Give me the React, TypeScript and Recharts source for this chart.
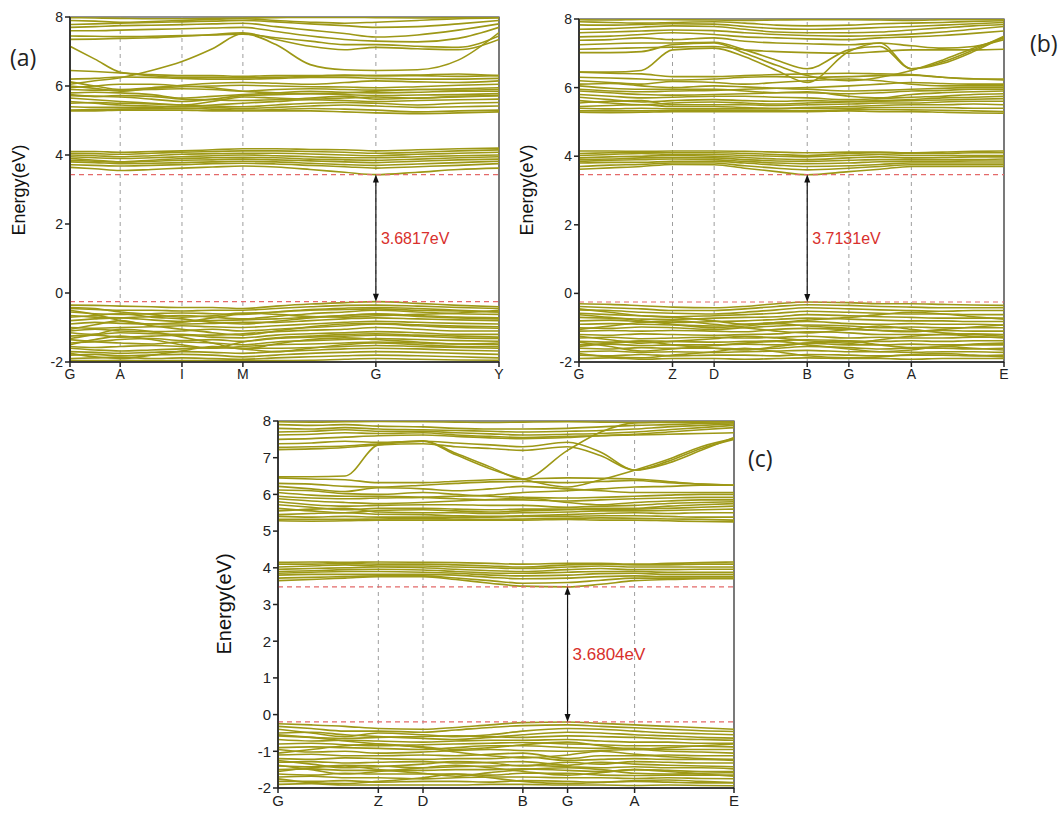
import { LineChart, Line, XAxis, YAxis, ReferenceLine, ReferenceArea } from "recharts";

// ---- path (a): G-A-I-M-G-Y ----
const PATH_A_TICKS = [0, 0.117, 0.261, 0.403, 0.713, 1];
const PATH_A_LABELS = ["G", "A", "I", "M", "G", "Y"];
const K_A = [0, 0.058, 0.117, 0.19, 0.261, 0.332, 0.403, 0.48, 0.56, 0.64, 0.713, 0.81, 0.905, 1];

const TOP_A = [
  [7.98, 7.97, 7.96, 7.95, 7.95, 7.96, 7.97, 7.98, 7.99, 7.99, 7.98, 7.97, 7.98, 7.99],
  [7.9, 7.88, 7.85, 7.87, 7.9, 7.93, 7.95, 7.9, 7.85, 7.82, 7.85, 7.9, 7.95, 7.97],
  [7.78, 7.8, 7.82, 7.84, 7.86, 7.88, 7.9, 7.86, 7.8, 7.75, 7.7, 7.72, 7.8, 7.9],
  [7.7, 7.72, 7.75, 7.76, 7.78, 7.8, 7.82, 7.72, 7.62, 7.52, 7.42, 7.48, 7.62, 7.8],
  [7.6, 7.6, 7.62, 7.64, 7.66, 7.68, 7.7, 7.58, 7.45, 7.35, 7.3, 7.28, 7.38, 7.7],
  [7.45, 7.44, 7.43, 7.44, 7.46, 7.48, 7.5, 7.4, 7.3, 7.2, 7.2, 7.15, 7.12, 7.45],
  [7.35, 7.36, 7.38, 7.4, 7.44, 7.49, 7.54, 7.35, 7.15, 7.05, 7.12, 7.08, 7.05, 7.35],
  [7.15, 6.78, 6.4, 6.3, 6.25, 6.25, 6.24, 6.25, 6.28, 6.3, 6.3, 6.3, 6.28, 6.3],
  [6.05, 6.15, 6.24, 6.45, 6.71, 7.08, 7.52, 7.2, 6.62, 6.47, 6.45, 6.47, 6.75, 7.55],
];
const MID_A = [
  [6.45, 6.42, 6.38, 6.33, 6.3, 6.3, 6.28, 6.3, 6.3, 6.32, 6.3, 6.32, 6.35, 6.3],
  [6.2, 6.22, 6.26, 6.25, 6.22, 6.2, 6.2, 6.22, 6.25, 6.25, 6.22, 6.2, 6.2, 6.22],
  [6.12, 6.0, 5.9, 5.95, 6.02, 6.08, 6.1, 6.08, 6.05, 6.1, 6.15, 6.12, 6.1, 6.15],
  [6.0, 5.93, 5.85, 5.93, 5.98, 6.0, 6.02, 6.0, 5.98, 5.97, 5.95, 5.98, 6.02, 6.05],
  [5.95, 6.0, 6.05, 6.05, 6.0, 5.95, 5.85, 5.8, 5.78, 5.8, 5.85, 5.9, 5.88, 5.9],
  [5.9, 5.88, 5.88, 5.9, 5.92, 5.9, 5.85, 5.9, 5.92, 5.9, 5.88, 5.9, 5.92, 5.95],
  [5.8, 5.82, 5.8, 5.75, 5.65, 5.7, 5.75, 5.8, 5.85, 5.82, 5.8, 5.82, 5.85, 5.85],
  [5.75, 5.7, 5.72, 5.7, 5.62, 5.6, 5.58, 5.6, 5.65, 5.7, 5.62, 5.65, 5.68, 5.72],
  [5.72, 5.7, 5.68, 5.62, 5.55, 5.62, 5.72, 5.75, 5.78, 5.75, 5.72, 5.74, 5.75, 5.78],
  [5.65, 5.6, 5.55, 5.5, 5.45, 5.55, 5.68, 5.65, 5.62, 5.65, 5.68, 5.65, 5.7, 5.72],
  [5.55, 5.5, 5.45, 5.42, 5.4, 5.45, 5.5, 5.55, 5.6, 5.58, 5.55, 5.58, 5.6, 5.62],
  [5.5, 5.52, 5.5, 5.48, 5.45, 5.42, 5.4, 5.45, 5.5, 5.52, 5.5, 5.45, 5.5, 5.52],
  [5.4, 5.38, 5.38, 5.38, 5.4, 5.38, 5.35, 5.38, 5.42, 5.45, 5.42, 5.38, 5.4, 5.42],
  [5.3, 5.32, 5.33, 5.34, 5.35, 5.33, 5.3, 5.32, 5.35, 5.33, 5.3, 5.25, 5.28, 5.3],
  [5.28, 5.28, 5.3, 5.3, 5.3, 5.28, 5.28, 5.28, 5.28, 5.25, 5.22, 5.2, 5.22, 5.25],
];
const CB_A = [
  [4.1, 4.1, 4.08, 4.1, 4.12, 4.15, 4.18, 4.18, 4.16, 4.15, 4.12, 4.15, 4.18, 4.2],
  [4.05, 4.04, 4.02, 4.05, 4.08, 4.1, 4.12, 4.12, 4.1, 4.08, 4.05, 4.08, 4.12, 4.15],
  [4.0, 3.98, 3.95, 3.98, 4.02, 4.04, 4.05, 4.05, 4.03, 4.0, 3.98, 4.02, 4.05, 4.08],
  [3.95, 3.92, 3.9, 3.92, 3.95, 3.98, 4.0, 3.98, 3.95, 3.92, 3.92, 3.95, 3.98, 4.0],
  [3.9, 3.85, 3.8, 3.85, 3.9, 3.92, 3.93, 3.92, 3.88, 3.86, 3.85, 3.88, 3.92, 3.95],
  [3.85, 3.82, 3.8, 3.82, 3.85, 3.86, 3.88, 3.86, 3.83, 3.8, 3.78, 3.82, 3.86, 3.88],
  [3.8, 3.78, 3.75, 3.76, 3.78, 3.8, 3.82, 3.8, 3.76, 3.72, 3.7, 3.74, 3.78, 3.82],
  [3.72, 3.7, 3.68, 3.7, 3.72, 3.75, 3.76, 3.74, 3.7, 3.66, 3.62, 3.66, 3.7, 3.75],
  [3.64, 3.6, 3.55, 3.58, 3.62, 3.65, 3.68, 3.65, 3.58, 3.5, 3.43, 3.5, 3.58, 3.62],
];
const VB_A = [
  [-0.35, -0.36, -0.38, -0.4, -0.42, -0.42, -0.45, -0.38, -0.32, -0.28, -0.25, -0.3, -0.36, -0.4],
  [-0.45, -0.48, -0.5, -0.5, -0.52, -0.5, -0.5, -0.45, -0.4, -0.36, -0.35, -0.38, -0.42, -0.45],
  [-0.5, -0.62, -0.8, -0.9, -0.85, -0.72, -0.6, -0.55, -0.5, -0.48, -0.46, -0.5, -0.52, -0.55],
  [-0.55, -0.6, -0.62, -0.6, -0.58, -0.6, -0.62, -0.55, -0.48, -0.44, -0.42, -0.45, -0.5, -0.55],
  [-0.65, -0.7, -0.72, -0.68, -0.65, -0.7, -0.75, -0.68, -0.6, -0.55, -0.5, -0.55, -0.6, -0.62],
  [-0.7, -0.65, -0.6, -0.7, -0.75, -0.85, -0.9, -0.82, -0.72, -0.65, -0.62, -0.68, -0.72, -0.75],
  [-0.8, -0.75, -0.72, -0.78, -0.82, -0.8, -0.78, -0.75, -0.7, -0.65, -0.6, -0.65, -0.7, -0.72],
  [-0.9, -0.85, -0.88, -0.9, -0.9, -0.88, -0.85, -0.85, -0.8, -0.75, -0.72, -0.75, -0.78, -0.8],
  [-1.0, -1.02, -1.0, -0.98, -0.95, -0.98, -1.0, -0.95, -0.9, -0.85, -0.82, -0.85, -0.88, -0.9],
  [-1.05, -0.92, -0.8, -0.95, -1.05, -1.15, -1.22, -1.1, -0.98, -0.9, -0.88, -0.92, -0.96, -0.98],
  [-1.1, -1.05, -1.1, -1.12, -1.1, -1.05, -1.1, -1.05, -1.0, -0.95, -0.9, -0.95, -1.0, -1.02],
  [-1.15, -1.2, -1.15, -1.18, -1.2, -1.22, -1.18, -1.12, -1.08, -1.05, -1.0, -1.05, -1.1, -1.1],
  [-1.25, -1.22, -1.28, -1.25, -1.22, -1.28, -1.3, -1.22, -1.18, -1.15, -1.12, -1.15, -1.2, -1.2],
  [-1.35, -1.4, -1.35, -1.32, -1.38, -1.35, -1.4, -1.32, -1.28, -1.25, -1.22, -1.25, -1.3, -1.32],
  [-1.45, -1.42, -1.45, -1.48, -1.42, -1.45, -1.5, -1.42, -1.38, -1.35, -1.32, -1.35, -1.38, -1.4],
  [-1.5, -1.35, -1.25, -1.35, -1.5, -1.6, -1.42, -1.3, -1.25, -1.2, -1.18, -1.22, -1.25, -1.28],
  [-1.55, -1.58, -1.55, -1.52, -1.55, -1.6, -1.55, -1.5, -1.48, -1.45, -1.42, -1.45, -1.48, -1.5],
  [-1.6, -1.65, -1.68, -1.65, -1.62, -1.58, -1.6, -1.6, -1.58, -1.55, -1.52, -1.55, -1.58, -1.6],
  [-1.7, -1.72, -1.75, -1.72, -1.7, -1.72, -1.75, -1.7, -1.66, -1.62, -1.6, -1.62, -1.66, -1.68],
  [-1.75, -1.85, -1.9, -1.8, -1.68, -1.55, -1.62, -1.7, -1.6, -1.5, -1.45, -1.5, -1.55, -1.56],
  [-1.8, -1.78, -1.82, -1.8, -1.78, -1.8, -1.85, -1.8, -1.75, -1.72, -1.7, -1.72, -1.75, -1.78],
  [-1.9, -1.88, -1.86, -1.9, -1.88, -1.9, -1.92, -1.88, -1.85, -1.82, -1.8, -1.82, -1.85, -1.88],
  [-1.95, -1.96, -1.95, -1.96, -1.96, -1.95, -1.96, -1.96, -1.95, -1.92, -1.9, -1.92, -1.94, -1.95],
  [-0.42, -0.45, -0.55, -0.62, -0.7, -0.66, -0.58, -0.62, -0.68, -0.7, -0.66, -0.62, -0.58, -0.5],
  [-1.32, -1.2, -1.05, -1.12, -1.28, -1.45, -1.62, -1.48, -1.35, -1.3, -1.35, -1.42, -1.48, -1.45],
];

// ---- path (b), (c): G-Z-D-B-G-A-E ----
const PATH_B_TICKS = [0, 0.22, 0.318, 0.537, 0.635, 0.782, 1];
const PATH_B_LABELS = ["G", "Z", "D", "B", "G", "A", "E"];
const K_B = [0, 0.073, 0.147, 0.22, 0.318, 0.39, 0.465, 0.537, 0.635, 0.708, 0.782, 0.855, 0.928, 1];

const TOP_B = [
  [7.98, 7.97, 7.99, 7.98, 7.97, 7.96, 7.97, 7.98, 7.98, 7.97, 7.96, 7.98, 7.99, 7.99],
  [7.92, 7.9, 7.88, 7.9, 7.92, 7.88, 7.82, 7.8, 7.82, 7.86, 7.88, 7.9, 7.93, 7.95],
  [7.83, 7.82, 7.84, 7.86, 7.85, 7.78, 7.72, 7.7, 7.72, 7.75, 7.78, 7.82, 7.86, 7.9],
  [7.7, 7.72, 7.76, 7.8, 7.78, 7.7, 7.62, 7.6, 7.6, 7.62, 7.68, 7.74, 7.8, 7.84],
  [7.6, 7.62, 7.65, 7.68, 7.66, 7.6, 7.55, 7.52, 7.5, 7.52, 7.56, 7.62, 7.7, 7.78],
  [7.48, 7.5, 7.55, 7.6, 7.55, 7.48, 7.45, 7.42, 7.4, 7.45, 7.48, 7.52, 7.58, 7.65],
  [7.38, 7.4, 7.45, 7.4, 7.45, 7.35, 7.3, 7.28, 7.25, 7.3, 7.22, 7.15, 7.2, 7.4],
  [7.25, 7.28, 7.3, 7.3, 7.32, 7.1, 6.8, 6.55, 7.1, 7.2, 6.55, 6.7, 7.05, 7.48],
  [7.12, 7.14, 7.16, 7.18, 7.2, 7.1, 7.05, 7.02, 7.0, 7.05, 7.1, 7.1, 7.1, 7.12],
  [7.02, 7.02, 7.05, 7.25, 7.3, 7.0, 6.65, 6.35, 6.2, 6.3, 6.5, 6.8, 7.15, 7.45],
  [6.45, 6.45, 6.5, 7.1, 7.15, 6.9, 6.5, 6.15, 7.05, 7.3, 6.55, 6.75, 7.1, 7.5],
];
const MID_B = [
  [6.45, 6.42, 6.4, 6.32, 6.32, 6.35, 6.38, 6.4, 6.42, 6.4, 6.38, 6.3, 6.25, 6.25],
  [6.3, 6.28, 6.25, 6.22, 6.25, 6.3, 6.32, 6.3, 6.32, 6.35, 6.36, 6.3, 6.26, 6.22],
  [6.2, 6.15, 6.1, 6.18, 6.15, 6.1, 6.15, 6.2, 6.25, 6.2, 6.1, 6.05, 6.05, 6.05],
  [6.1, 6.12, 6.05, 6.0, 6.05, 6.02, 5.98, 5.95, 5.9, 5.92, 5.95, 5.98, 6.0, 6.0],
  [6.05, 5.98, 5.95, 5.95, 5.95, 5.9, 5.85, 5.85, 5.82, 5.85, 5.9, 5.92, 5.95, 5.95],
  [5.95, 5.9, 5.88, 5.9, 5.92, 5.95, 5.98, 6.0, 6.05, 6.1, 6.15, 6.12, 6.1, 6.1],
  [5.9, 5.85, 5.8, 5.78, 5.8, 5.82, 5.85, 5.88, 5.75, 5.7, 5.8, 5.85, 5.88, 5.9],
  [5.8, 5.75, 5.7, 5.72, 5.75, 5.75, 5.72, 5.7, 5.65, 5.68, 5.72, 5.75, 5.8, 5.82],
  [5.72, 5.65, 5.58, 5.62, 5.65, 5.62, 5.6, 5.62, 5.6, 5.62, 5.65, 5.7, 5.72, 5.75],
  [5.62, 5.55, 5.5, 5.55, 5.58, 5.55, 5.52, 5.55, 5.58, 5.6, 5.62, 5.64, 5.66, 5.68],
  [5.55, 5.6, 5.62, 5.5, 5.5, 5.5, 5.48, 5.5, 5.52, 5.55, 5.55, 5.58, 5.6, 5.6],
  [5.45, 5.48, 5.5, 5.45, 5.45, 5.42, 5.4, 5.42, 5.45, 5.48, 5.5, 5.5, 5.52, 5.5],
  [5.4, 5.38, 5.4, 5.38, 5.38, 5.38, 5.38, 5.4, 5.4, 5.42, 5.42, 5.42, 5.4, 5.4],
  [5.32, 5.32, 5.32, 5.33, 5.34, 5.33, 5.32, 5.33, 5.35, 5.36, 5.35, 5.34, 5.32, 5.3],
  [5.28, 5.27, 5.28, 5.3, 5.3, 5.3, 5.3, 5.3, 5.32, 5.3, 5.3, 5.28, 5.26, 5.25],
];
const CB_B = [
  [4.15, 4.15, 4.14, 4.15, 4.15, 4.14, 4.12, 4.1, 4.12, 4.12, 4.1, 4.12, 4.14, 4.15],
  [4.08, 4.1, 4.12, 4.1, 4.1, 4.08, 4.05, 4.02, 4.08, 4.1, 4.08, 4.08, 4.1, 4.1],
  [4.02, 4.05, 4.08, 4.05, 4.05, 4.02, 4.0, 3.98, 4.02, 4.05, 4.02, 4.02, 4.02, 4.02],
  [3.95, 3.98, 4.0, 4.02, 4.0, 3.96, 3.92, 3.9, 3.95, 3.98, 3.95, 3.96, 3.98, 3.98],
  [3.9, 3.92, 3.95, 3.96, 3.95, 3.9, 3.86, 3.85, 3.88, 3.9, 3.9, 3.9, 3.9, 3.92],
  [3.85, 3.88, 3.9, 3.92, 3.9, 3.85, 3.8, 3.78, 3.8, 3.84, 3.85, 3.85, 3.86, 3.86],
  [3.8, 3.82, 3.82, 3.85, 3.85, 3.8, 3.74, 3.7, 3.72, 3.76, 3.8, 3.8, 3.8, 3.8],
  [3.7, 3.74, 3.76, 3.8, 3.8, 3.72, 3.65, 3.6, 3.65, 3.7, 3.75, 3.75, 3.75, 3.75],
  [3.62, 3.66, 3.7, 3.76, 3.75, 3.65, 3.55, 3.46, 3.55, 3.62, 3.7, 3.7, 3.7, 3.7],
];
const VB_B = [
  [-0.3, -0.32, -0.36, -0.4, -0.42, -0.38, -0.3, -0.25, -0.27, -0.3, -0.3, -0.32, -0.34, -0.35],
  [-0.38, -0.42, -0.45, -0.5, -0.5, -0.45, -0.38, -0.33, -0.35, -0.38, -0.4, -0.42, -0.42, -0.42],
  [-0.45, -0.55, -0.65, -0.7, -0.8, -0.9, -0.85, -0.78, -0.7, -0.62, -0.55, -0.6, -0.68, -0.75],
  [-0.48, -0.5, -0.55, -0.58, -0.6, -0.55, -0.48, -0.42, -0.45, -0.48, -0.5, -0.52, -0.5, -0.5],
  [-0.58, -0.62, -0.65, -0.68, -0.65, -0.62, -0.58, -0.52, -0.55, -0.58, -0.6, -0.6, -0.62, -0.62],
  [-0.7, -0.72, -0.75, -0.76, -0.72, -0.7, -0.68, -0.62, -0.65, -0.68, -0.7, -0.72, -0.72, -0.72],
  [-0.8, -0.78, -0.82, -0.85, -0.82, -0.8, -0.76, -0.72, -0.75, -0.78, -0.8, -0.8, -0.82, -0.82],
  [-0.9, -0.88, -0.9, -0.92, -0.95, -0.9, -0.85, -0.82, -0.88, -0.9, -0.88, -0.9, -0.9, -0.92],
  [-1.0, -1.02, -0.98, -1.0, -1.05, -1.0, -0.95, -0.92, -0.95, -1.0, -0.98, -1.0, -1.0, -1.0],
  [-1.05, -0.95, -0.85, -0.8, -0.9, -1.0, -1.1, -1.15, -1.05, -0.95, -1.05, -1.15, -1.2, -1.25],
  [-1.1, -1.08, -1.1, -1.08, -1.1, -1.12, -1.05, -1.02, -1.05, -1.08, -1.1, -1.08, -1.1, -1.1],
  [-1.2, -1.22, -1.18, -1.2, -1.22, -1.2, -1.18, -1.12, -1.15, -1.2, -1.2, -1.2, -1.18, -1.2],
  [-1.25, -1.35, -1.45, -1.4, -1.32, -1.25, -1.3, -1.38, -1.45, -1.35, -1.25, -1.2, -1.25, -1.3],
  [-1.3, -1.28, -1.32, -1.3, -1.28, -1.3, -1.28, -1.25, -1.3, -1.28, -1.3, -1.3, -1.28, -1.28],
  [-1.4, -1.42, -1.38, -1.4, -1.42, -1.4, -1.38, -1.35, -1.38, -1.4, -1.38, -1.4, -1.38, -1.38],
  [-1.5, -1.48, -1.52, -1.5, -1.5, -1.48, -1.5, -1.45, -1.5, -1.5, -1.48, -1.5, -1.5, -1.5],
  [-1.55, -1.45, -1.4, -1.5, -1.6, -1.65, -1.55, -1.45, -1.4, -1.5, -1.58, -1.55, -1.48, -1.45],
  [-1.6, -1.62, -1.58, -1.6, -1.6, -1.62, -1.6, -1.55, -1.58, -1.62, -1.6, -1.6, -1.62, -1.6],
  [-1.7, -1.68, -1.72, -1.7, -1.72, -1.7, -1.68, -1.66, -1.7, -1.7, -1.72, -1.7, -1.7, -1.72],
  [-1.75, -1.85, -1.88, -1.8, -1.7, -1.6, -1.7, -1.82, -1.88, -1.85, -1.78, -1.75, -1.8, -1.85],
  [-1.8, -1.82, -1.78, -1.82, -1.8, -1.8, -1.82, -1.78, -1.8, -1.82, -1.8, -1.8, -1.82, -1.8],
  [-1.9, -1.88, -1.92, -1.9, -1.9, -1.92, -1.9, -1.88, -1.9, -1.9, -1.92, -1.9, -1.9, -1.9],
  [-0.62, -0.7, -0.8, -0.9, -1.0, -0.95, -0.88, -0.95, -1.02, -1.08, -1.12, -1.05, -0.98, -0.92],
  [-1.42, -1.55, -1.68, -1.62, -1.52, -1.45, -1.4, -1.5, -1.62, -1.7, -1.65, -1.55, -1.6, -1.65],
];

const TOP_C = [
  [7.98, 7.97, 7.98, 7.99, 7.98, 7.97, 7.96, 7.97, 7.98, 7.97, 7.96, 7.97, 7.98, 7.99],
  [7.9, 7.88, 7.9, 7.86, 7.84, 7.8, 7.78, 7.78, 7.8, 7.84, 7.88, 7.9, 7.93, 7.95],
  [7.8, 7.78, 7.82, 7.78, 7.76, 7.74, 7.72, 7.7, 7.72, 7.74, 7.78, 7.84, 7.88, 7.92],
  [7.7, 7.72, 7.76, 7.72, 7.72, 7.68, 7.65, 7.62, 7.64, 7.66, 7.7, 7.76, 7.82, 7.88],
  [7.62, 7.64, 7.68, 7.66, 7.68, 7.62, 7.58, 7.55, 7.58, 7.6, 7.64, 7.7, 7.76, 7.82],
  [7.5, 7.52, 7.56, 7.6, 7.62, 7.58, 7.54, 7.52, 7.55, 7.6, 7.62, 7.64, 7.66, 7.68],
  [7.38, 7.4, 7.45, 7.42, 7.45, 7.4, 7.35, 7.3, 7.42, 7.15, 6.66, 6.9, 7.25, 7.5],
  [7.28, 7.3, 7.32, 7.38, 7.46, 7.12, 6.75, 6.42, 7.2, 7.7, 7.95, 7.96, 7.97, 7.98],
  [7.22, 7.24, 7.28, 7.35, 7.38, 7.3, 7.25, 7.2, 7.3, 7.05, 6.66, 6.85, 7.2, 7.55],
  [6.48, 6.48, 6.5, 7.35, 7.45, 7.08, 6.7, 6.42, 6.2, 6.4, 6.66, 6.95, 7.3, 7.52],
];
const MID_C = [
  [6.45, 6.42, 6.4, 6.32, 6.32, 6.36, 6.4, 6.42, 6.45, 6.44, 6.42, 6.35, 6.28, 6.25],
  [6.3, 6.28, 6.22, 6.2, 6.25, 6.3, 6.34, 6.35, 6.32, 6.35, 6.38, 6.32, 6.28, 6.25],
  [6.22, 6.15, 6.08, 6.18, 6.15, 6.1, 6.15, 6.22, 6.15, 6.1, 6.05, 6.05, 6.05, 6.05],
  [6.12, 6.1, 6.02, 6.0, 6.05, 6.0, 5.95, 5.92, 5.9, 5.92, 5.95, 5.98, 6.0, 6.0],
  [6.05, 5.98, 5.95, 5.95, 5.92, 5.88, 5.85, 5.85, 5.82, 5.85, 5.88, 5.9, 5.92, 5.92],
  [5.95, 5.9, 5.88, 5.9, 5.92, 5.95, 5.98, 6.05, 6.1, 6.15, 6.2, 6.22, 6.25, 6.25],
  [5.88, 5.82, 5.78, 5.75, 5.78, 5.82, 5.86, 5.9, 5.78, 5.72, 5.78, 5.82, 5.85, 5.85],
  [5.8, 5.72, 5.68, 5.7, 5.72, 5.72, 5.7, 5.7, 5.65, 5.68, 5.7, 5.75, 5.78, 5.8],
  [5.72, 5.65, 5.58, 5.62, 5.62, 5.6, 5.58, 5.6, 5.6, 5.62, 5.62, 5.68, 5.72, 5.75],
  [5.62, 5.55, 5.5, 5.56, 5.58, 5.55, 5.52, 5.55, 5.58, 5.6, 5.6, 5.62, 5.65, 5.68],
  [5.55, 5.6, 5.62, 5.52, 5.5, 5.5, 5.48, 5.5, 5.52, 5.55, 5.55, 5.56, 5.58, 5.6],
  [5.45, 5.48, 5.5, 5.46, 5.45, 5.42, 5.4, 5.42, 5.45, 5.48, 5.5, 5.48, 5.5, 5.5],
  [5.4, 5.38, 5.4, 5.38, 5.38, 5.38, 5.38, 5.4, 5.4, 5.42, 5.42, 5.4, 5.38, 5.38],
  [5.32, 5.32, 5.32, 5.33, 5.34, 5.33, 5.32, 5.33, 5.35, 5.36, 5.35, 5.33, 5.32, 5.3],
  [5.28, 5.27, 5.28, 5.3, 5.3, 5.3, 5.3, 5.3, 5.32, 5.3, 5.3, 5.28, 5.26, 5.25],
];
const CB_C = [
  [4.15, 4.16, 4.15, 4.16, 4.15, 4.14, 4.12, 4.1, 4.12, 4.12, 4.1, 4.12, 4.14, 4.16],
  [4.1, 4.1, 4.12, 4.1, 4.1, 4.08, 4.05, 4.02, 4.08, 4.1, 4.08, 4.08, 4.1, 4.1],
  [4.02, 4.05, 4.08, 4.05, 4.05, 4.02, 4.0, 3.98, 4.02, 4.05, 4.02, 4.02, 4.02, 4.02],
  [3.96, 3.98, 4.0, 4.02, 4.0, 3.96, 3.92, 3.9, 3.95, 3.98, 3.95, 3.95, 3.96, 3.96],
  [3.9, 3.92, 3.95, 3.96, 3.94, 3.9, 3.86, 3.85, 3.88, 3.9, 3.9, 3.88, 3.88, 3.88],
  [3.85, 3.88, 3.9, 3.9, 3.88, 3.85, 3.8, 3.78, 3.8, 3.84, 3.85, 3.82, 3.82, 3.82],
  [3.8, 3.82, 3.82, 3.82, 3.82, 3.8, 3.74, 3.7, 3.72, 3.76, 3.78, 3.76, 3.76, 3.76],
  [3.72, 3.74, 3.76, 3.78, 3.78, 3.72, 3.65, 3.58, 3.6, 3.66, 3.72, 3.72, 3.72, 3.72],
  [3.65, 3.68, 3.72, 3.76, 3.76, 3.68, 3.58, 3.5, 3.48, 3.55, 3.65, 3.68, 3.7, 3.7],
];
const VB_C = [
  [-0.25, -0.28, -0.32, -0.38, -0.4, -0.35, -0.28, -0.22, -0.2, -0.24, -0.28, -0.32, -0.36, -0.4],
  [-0.32, -0.38, -0.45, -0.45, -0.48, -0.42, -0.35, -0.3, -0.28, -0.32, -0.36, -0.4, -0.44, -0.46],
  [-0.4, -0.5, -0.6, -0.5, -0.55, -0.6, -0.55, -0.45, -0.38, -0.4, -0.45, -0.5, -0.52, -0.55],
  [-0.5, -0.48, -0.55, -0.6, -0.65, -0.68, -0.62, -0.55, -0.48, -0.5, -0.55, -0.58, -0.62, -0.64],
  [-0.58, -0.62, -0.65, -0.62, -0.6, -0.58, -0.6, -0.62, -0.58, -0.6, -0.62, -0.66, -0.68, -0.7],
  [-0.68, -0.72, -0.7, -0.72, -0.75, -0.72, -0.7, -0.7, -0.68, -0.72, -0.75, -0.75, -0.78, -0.78],
  [-0.8, -0.78, -0.82, -0.85, -0.82, -0.8, -0.78, -0.76, -0.8, -0.82, -0.85, -0.85, -0.86, -0.88],
  [-0.9, -0.88, -0.9, -0.92, -0.95, -0.9, -0.85, -0.85, -0.9, -0.92, -0.92, -0.95, -0.95, -0.95],
  [-0.95, -1.02, -1.0, -1.05, -1.02, -0.98, -0.95, -0.98, -1.0, -0.98, -0.95, -1.0, -1.02, -1.05],
  [-1.05, -0.95, -0.85, -0.8, -0.9, -1.02, -1.12, -1.18, -1.1, -1.0, -1.08, -1.15, -1.2, -1.22],
  [-1.1, -1.08, -1.12, -1.12, -1.1, -1.12, -1.08, -1.05, -1.2, -1.12, -1.12, -1.1, -1.12, -1.12],
  [-1.2, -1.22, -1.18, -1.2, -1.22, -1.2, -1.2, -1.15, -1.25, -1.22, -1.2, -1.22, -1.22, -1.25],
  [-1.25, -1.35, -1.45, -1.42, -1.35, -1.28, -1.32, -1.4, -1.3, -1.35, -1.28, -1.3, -1.32, -1.32],
  [-1.3, -1.28, -1.32, -1.3, -1.28, -1.32, -1.3, -1.28, -1.38, -1.3, -1.35, -1.38, -1.4, -1.42],
  [-1.4, -1.42, -1.38, -1.4, -1.45, -1.42, -1.4, -1.38, -1.42, -1.45, -1.42, -1.45, -1.45, -1.48],
  [-1.5, -1.48, -1.52, -1.52, -1.52, -1.5, -1.5, -1.48, -1.52, -1.55, -1.5, -1.52, -1.55, -1.55],
  [-1.55, -1.45, -1.4, -1.5, -1.6, -1.68, -1.58, -1.5, -1.45, -1.5, -1.6, -1.62, -1.6, -1.58],
  [-1.62, -1.65, -1.6, -1.62, -1.62, -1.62, -1.65, -1.6, -1.6, -1.65, -1.66, -1.65, -1.65, -1.65],
  [-1.7, -1.68, -1.72, -1.72, -1.75, -1.72, -1.7, -1.7, -1.72, -1.72, -1.74, -1.72, -1.74, -1.75],
  [-1.75, -1.85, -1.88, -1.82, -1.72, -1.62, -1.72, -1.82, -1.88, -1.85, -1.8, -1.78, -1.82, -1.85],
  [-1.82, -1.82, -1.8, -1.84, -1.82, -1.82, -1.84, -1.8, -1.82, -1.84, -1.82, -1.84, -1.86, -1.86],
  [-1.9, -1.88, -1.92, -1.92, -1.92, -1.92, -1.9, -1.9, -1.92, -1.92, -1.93, -1.92, -1.93, -1.94],
  [-0.55, -0.62, -0.72, -0.8, -0.88, -0.95, -0.9, -0.82, -0.75, -0.85, -0.95, -0.9, -0.85, -0.8],
  [-1.38, -1.5, -1.62, -1.55, -1.45, -1.38, -1.45, -1.55, -1.65, -1.58, -1.5, -1.55, -1.62, -1.68],
];

// band-edge energies and gaps
const VBM_A = -0.25;
const GAP_A = 3.6817;
const VBM_B = -0.25;
const GAP_B = 3.7131;
const VBM_C = -0.2;
const GAP_C = 3.6804;

const E_TICKS_AB = [-2, 0, 2, 4, 6, 8];
const E_TICKS_C = [-2, -1, 0, 1, 2, 3, 4, 5, 6, 7, 8];

const BAND_COLOR = "#9d9816";
const SANS = "'Liberation Sans', Arial, sans-serif";

type Row = Record<string, number>;

function buildRows(ks: number[], bands: number[][]): Row[] {
  return ks.map((k, i) => {
    const row: Row = { k };
    bands.forEach((b, j) => {
      row[`b${j}`] = b[i];
    });
    return row;
  });
}

/* eslint-disable @typescript-eslint/no-explicit-any */
const GapArrow = (props: any) => {
  const { x1, y1, y2 } = props;
  const top = Math.min(y1, y2);
  const bot = Math.max(y1, y2);
  return (
    <g>
      <line x1={x1} y1={top + 4} x2={x1} y2={bot - 4} stroke="#111" strokeWidth={1.2} />
      <path d={`M${x1 - 3},${top + 8} L${x1},${top} L${x1 + 3},${top + 8} Z`} fill="#111" />
      <path d={`M${x1 - 3},${bot - 8} L${x1},${bot} L${x1 + 3},${bot - 8} Z`} fill="#111" />
    </g>
  );
};
/* eslint-enable @typescript-eslint/no-explicit-any */

interface PanelProps {
  x0: number;
  x1: number;
  y0: number;
  y1: number;
  ks: number[];
  bands: number[][];
  kTicks: number[];
  kLabels: string[];
  eTicks: number[];
  vbm: number;
  gap: number;
  gapAt: number;
  fontSize: number;
  gapFontSize: number;
}

function BandPanel(p: PanelProps) {
  const rows = buildRows(p.ks, p.bands);
  const cbm = p.vbm + p.gap;
  const axisW = 40;
  const axisH = 28;
  const mTop = 8;
  const mRight = 10;
  const inner = p.kTicks.slice(1, -1);
  return (
    <div style={{ position: "absolute", left: p.x0 - axisW, top: p.y0 - mTop }}>
      <LineChart
        width={p.x1 - p.x0 + axisW + mRight}
        height={p.y1 - p.y0 + mTop + axisH}
        data={rows}
        margin={{ top: mTop, right: mRight, bottom: 0, left: 0 }}
      >
        <XAxis
          type="number"
          dataKey="k"
          domain={[0, 1]}
          ticks={p.kTicks}
          interval={0}
          allowDataOverflow
          height={axisH}
          tickSize={5}
          stroke="#222"
          strokeWidth={1.5}
          tick={{ fill: "#222", fontSize: p.fontSize, fontFamily: SANS }}
          tickFormatter={(v: number) => p.kLabels[p.kTicks.indexOf(v)] ?? ""}
        />
        <YAxis
          type="number"
          domain={[-2, 8]}
          ticks={p.eTicks}
          interval={0}
          allowDataOverflow
          width={axisW}
          tickSize={5}
          stroke="#222"
          strokeWidth={1.5}
          tick={{ fill: "#222", fontSize: p.fontSize, fontFamily: SANS }}
        />
        <ReferenceArea x1={0} x2={1} y1={-2} y2={8} fill="none" stroke="#222" strokeWidth={1.2} />
        {inner.map((t) => (
          <ReferenceLine key={`kx${t}`} x={t} stroke="#9e9e9e" strokeDasharray="4 4" strokeWidth={1} />
        ))}
        {p.bands.map((_, j) => (
          <Line
            key={j}
            dataKey={`b${j}`}
            type="monotone"
            stroke={BAND_COLOR}
            strokeWidth={1.6}
            dot={false}
            activeDot={false}
            isAnimationActive={false}
          />
        ))}
        <ReferenceLine y={p.vbm} stroke="#e46a6a" strokeDasharray="5 4" strokeWidth={1.2} />
        <ReferenceLine y={cbm} stroke="#e46a6a" strokeDasharray="5 4" strokeWidth={1.2} />
        <ReferenceLine
          segment={[
            { x: p.gapAt, y: p.vbm },
            { x: p.gapAt, y: cbm },
          ]}
          shape={GapArrow}
          label={{
            value: `${p.gap.toFixed(4)}eV`,
            position: "right",
            fill: "#d8302c",
            fontSize: p.gapFontSize,
            fontFamily: SANS,
          }}
        />
      </LineChart>
    </div>
  );
}

function AxisTitle({ cx, cy, size }: { cx: number; cy: number; size: number }) {
  return (
    <div
      style={{
        position: "absolute",
        left: cx,
        top: cy,
        transform: "translate(-50%, -50%) rotate(-90deg)",
        fontFamily: SANS,
        fontSize: size,
        color: "#111",
        whiteSpace: "nowrap",
      }}
    >
      Energy(eV)
    </div>
  );
}

function Tag({ x, y, text }: { x: number; y: number; text: string }) {
  return (
    <div
      style={{
        position: "absolute",
        left: x,
        top: y,
        transform: "translateY(-50%)",
        fontFamily: "'Open Sans', sans-serif",
        fontSize: 23,
        color: "#222",
      }}
    >
      {text}
    </div>
  );
}

export default function App() {
  return (
    <div style={{ position: "absolute", left: 0, top: 0, width: 1061, height: 815, background: "#fff" }}>
      <BandPanel
        x0={70}
        x1={499}
        y0={17}
        y1={362}
        ks={K_A}
        bands={[...TOP_A, ...MID_A, ...CB_A, ...VB_A]}
        kTicks={PATH_A_TICKS}
        kLabels={PATH_A_LABELS}
        eTicks={E_TICKS_AB}
        vbm={VBM_A}
        gap={GAP_A}
        gapAt={PATH_A_TICKS[4]}
        fontSize={14}
        gapFontSize={16}
      />
      <BandPanel
        x0={579}
        x1={1004}
        y0={19}
        y1={362}
        ks={K_B}
        bands={[...TOP_B, ...MID_B, ...CB_B, ...VB_B]}
        kTicks={PATH_B_TICKS}
        kLabels={PATH_B_LABELS}
        eTicks={E_TICKS_AB}
        vbm={VBM_B}
        gap={GAP_B}
        gapAt={PATH_B_TICKS[3]}
        fontSize={14}
        gapFontSize={16}
      />
      <BandPanel
        x0={278}
        x1={734}
        y0={421}
        y1={788}
        ks={K_B}
        bands={[...TOP_C, ...MID_C, ...CB_C, ...VB_C]}
        kTicks={PATH_B_TICKS}
        kLabels={PATH_B_LABELS}
        eTicks={E_TICKS_C}
        vbm={VBM_C}
        gap={GAP_C}
        gapAt={PATH_B_TICKS[4]}
        fontSize={15}
        gapFontSize={17}
      />
      <AxisTitle cx={19} cy={190} size={18} />
      <AxisTitle cx={527} cy={190} size={18} />
      <AxisTitle cx={224} cy={604} size={20} />
      <Tag x={10} y={57} text="(a)" />
      <Tag x={1030} y={43} text="(b)" />
      <Tag x={748} y={458} text="(c)" />
    </div>
  );
}
